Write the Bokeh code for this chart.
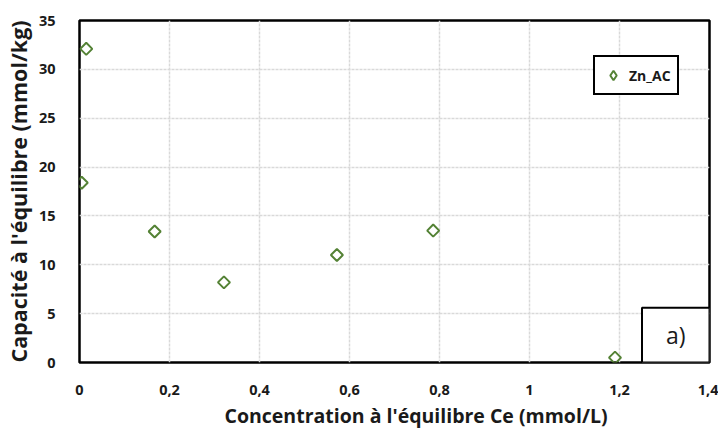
import math
from bokeh.plotting import figure
from bokeh.models import (Range1d, BoxAnnotation, Label, Legend, LegendItem,
                          FixedTicker, CustomJSTickFormatter, Title)
from bokeh.embed import file_html
from bokeh.resources import INLINE

# Data
ce = [0.005, 0.015, 0.167, 0.321, 0.572, 0.786, 1.19]
qe = [18.4, 32.1, 13.4, 8.2, 11.0, 13.5, 0.5]
series_name = "Zn_AC"
x_ticks = [0, 0.2, 0.4, 0.6, 0.8, 1.0, 1.2, 1.4]
y_ticks = [0, 5, 10, 15, 20, 25, 30, 35]

FONT = "Open Sans"
GREEN = "#548235"
TXT = "#1a1a1a"

p = figure(frame_width=630, frame_height=342, output_backend="svg", toolbar_location=None,
           x_range=Range1d(0, 1.4), y_range=Range1d(0, 35),
           min_border_left=73, min_border_top=20, min_border_right=9, min_border_bottom=5)

p.outline_line_color = "black"
p.outline_line_alpha = 1
p.outline_line_width = 2.5
p.background_fill_color = "white"

for ax in (p.xaxis[0], p.yaxis[0]):
    ax.axis_line_color = None
    ax.major_tick_line_color = None
    ax.minor_tick_line_color = None
    ax.major_label_text_font = FONT
    ax.major_label_text_font_style = "bold"
    ax.major_label_text_font_size = "14.5px"
    ax.major_label_text_color = TXT
    ax.axis_label_text_font = FONT
    ax.axis_label_text_color = TXT
    ax.axis_label_text_font_style = "bold"

p.xaxis.ticker = FixedTicker(ticks=x_ticks)
p.yaxis.ticker = FixedTicker(ticks=y_ticks)
p.xaxis.formatter = CustomJSTickFormatter(code="return (Math.round(tick*10)/10).toString().replace('.', ',');")
p.xaxis.major_label_standoff = 16
p.yaxis.major_label_standoff = 18
p.yaxis.axis_label = "Capacité à l'équilibre (mmol/kg)"
p.yaxis.axis_label_text_font_size = "21.5px"
p.yaxis.axis_label_standoff = 3

xtitle = Title(text="Concentration à l'équilibre Ce (mmol/L)", align="left", offset=145,
               text_font=FONT, text_font_size="19.5px", text_font_style="bold",
               text_color=TXT, standoff=4)
p.add_layout(xtitle, "below")

p.xgrid.ticker = FixedTicker(ticks=x_ticks)
p.ygrid.ticker = FixedTicker(ticks=y_ticks)
p.grid.grid_line_color = "#d9d9d9"
p.grid.grid_line_width = 1.5
p.grid.grid_line_dash = "3 1"

# legend swatch: same data drawn at size 0 (legend glyphs get their own size, and ignore angle)
swatch = p.scatter(ce, qe, marker="diamond", size=0, fill_color=None,
                   line_color=GREEN, line_width=2)
# data markers: squares turned by 45 degrees (open diamonds)
r = p.scatter(ce, qe, marker="square", angle=math.pi / 4, size=8.5, fill_color=None,
              line_color=GREEN, line_width=2)

legend = Legend(items=[LegendItem(label=series_name, renderers=[swatch])],
                location=(514, 267), orientation="vertical")
legend.border_line_color = "black"
legend.border_line_alpha = 1
legend.border_line_width = 2
legend.background_fill_alpha = 1
legend.label_text_font = FONT
legend.label_text_font_style = "bold"
legend.label_text_font_size = "14px"
legend.label_text_color = TXT
legend.padding = 6
legend.margin = 0
legend.glyph_width = 24
legend.glyph_height = 24
legend.label_height = 20
legend.label_standoff = 4
legend.spacing = 0
p.add_layout(legend, "center")

box = BoxAnnotation(left=1.25, right=1.4, bottom=0, top=5.6,
                    fill_color="white", fill_alpha=1,
                    line_color="black", line_alpha=1, line_width=2)
p.add_layout(box)
p.add_layout(Label(x=1.325, y=2.8, text="a)", text_align="center", text_baseline="middle",
                   text_font=FONT, text_font_size="23px", text_color=TXT))

open("out.html", "w").write(file_html(p, INLINE))
